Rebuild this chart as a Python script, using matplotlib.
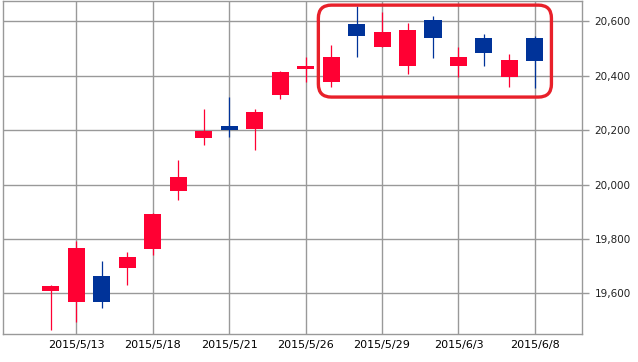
import matplotlib
matplotlib.use('Agg')
import matplotlib.pyplot as plt
from matplotlib.patches import FancyBboxPatch
from matplotlib.transforms import IdentityTransform
import numpy as np

# daily OHLC
dates = ['2015/5/12', '2015/5/13', '2015/5/14', '2015/5/15', '2015/5/18',
         '2015/5/19', '2015/5/20', '2015/5/21', '2015/5/22', '2015/5/25',
         '2015/5/26', '2015/5/27', '2015/5/28', '2015/5/29', '2015/6/1',
         '2015/6/2', '2015/6/3', '2015/6/4', '2015/6/5', '2015/6/8']
opens = [19609, 19568, 19665, 19693, 19763, 19976, 20171, 20214, 20203, 20329,
         20427, 20377, 20589, 20506, 20438, 20604, 20438, 20538, 20395, 20538]
highs = [19631, 19792, 19719, 19752, 19895, 20090, 20277, 20322, 20277, 20416,
         20471, 20512, 20655, 20633, 20593, 20619, 20505, 20553, 20480, 20545]
lows = [19465, 19496, 19547, 19632, 19741, 19943, 20145, 20175, 20126, 20314,
        20377, 20359, 20469, 20506, 20406, 20465, 20395, 20436, 20359, 20355]
closes = [19627, 19768, 19568, 19735, 19892, 20027, 20197, 20200, 20266, 20413,
          20438, 20471, 20546, 20563, 20567, 20539, 20471, 20484, 20460, 20454]

yticks = [19600, 19800, 20000, 20200, 20400, 20600]
label_every = 3
label_start = 1

# highlighted range (x from/to in candle index, y from/to in price)
hl_box = (10.5, 19.65, 20322, 20660)

up_col = '#ff0033'
down_col = '#003399'
grid_col = '#999999'

fig = plt.figure(figsize=(6.38, 3.62), dpi=100)
ax = fig.add_axes([3/638, 28/362, 579/638, 333.5/362])

x = np.arange(len(dates))
o = np.array(opens)
c = np.array(closes)
cols = [up_col if cc >= oo else down_col for oo, cc in zip(o, c)]

# wicks then bodies
ax.vlines(x, lows, highs, colors=cols, linewidth=0.9, zorder=2)
ax.bar(x, np.abs(c - o), bottom=np.minimum(o, c), width=0.67, color=cols,
       linewidth=0, zorder=3)

ax.set_xlim(-1.88, 20.85)
ax.set_ylim(19451, 20677)

tick_idx = x[label_start::label_every]
ax.set_xticks(tick_idx)
ax.set_xticklabels([dates[i] for i in tick_idx], fontsize=8)
ax.set_yticks(yticks)
ax.set_yticklabels(['{:,}'.format(v) for v in yticks], fontsize=7.5)
ax.yaxis.tick_right()
ax.tick_params(axis='y', length=5, width=1, color=grid_col, pad=4,
               labelcolor='#222222')
ax.tick_params(axis='x', length=0, pad=4)
ax.grid(color=grid_col, linewidth=1)
ax.set_axisbelow(True)
for s in ax.spines.values():
    s.set_color(grid_col)
    s.set_linewidth(1)

# red rounded box round the last stretch
x0, y0 = ax.transData.transform((hl_box[0], hl_box[2]))
x1, y1 = ax.transData.transform((hl_box[1], hl_box[3]))
box = FancyBboxPatch((x0, y0), x1 - x0, y1 - y0,
                     boxstyle='round,pad=0,rounding_size=13',
                     transform=IdentityTransform(), fill=False,
                     edgecolor='#e8202a', linewidth=2.4, zorder=10)
fig.add_artist(box)

fig.savefig('out.png', dpi=100)
